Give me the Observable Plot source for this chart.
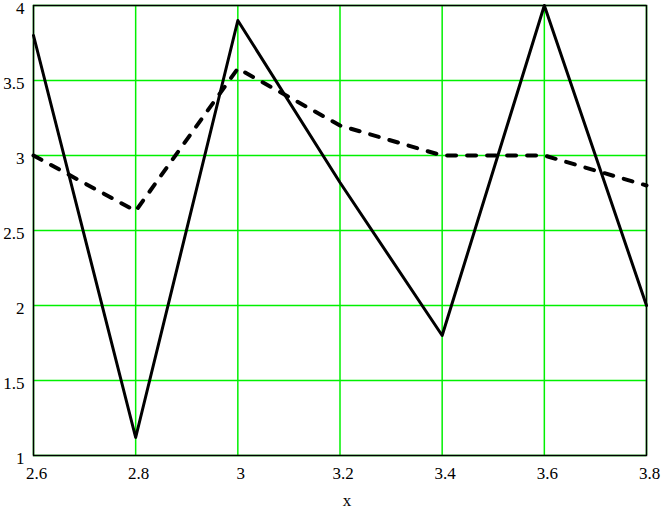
<!DOCTYPE html>
<html>
<head>
<meta charset="utf-8">
<script src="https://cdn.jsdelivr.net/npm/d3@7"></script>
<script src="https://cdn.jsdelivr.net/npm/@observablehq/plot@0.6"></script>
<style>
  html, body { margin: 0; padding: 0; background: #fff; }
  svg text { font-family: "Liberation Serif", "Times New Roman", serif !important; }
</style>
</head>
<body>
<div id="chart"></div>
<script>
const xValues = [2.6, 2.8, 3.0, 3.2, 3.4, 3.6, 3.8];
const solidSeries = [3.8, 1.12, 3.9, 2.82, 1.8, 4.0, 2.0];
const dashedSeries = [3.0, 2.63, 3.58, 3.2, 3.0, 3.0, 2.8];
const xTicks = [2.6, 2.8, 3.0, 3.2, 3.4, 3.6, 3.8];
const yTicks = [1, 1.5, 2, 2.5, 3, 3.5, 4];
const xAxisLabel = "x";

const solidData = xValues.map((x, i) => ({x, y: solidSeries[i]}));
const dashedData = xValues.map((x, i) => ({x, y: dashedSeries[i]}));
const fmt = v => String(+v.toFixed(2));
const GREEN = "#00f000";
const SERIF = "Liberation Serif";

const chart = Plot.plot({
  width: 661,
  height: 511,
  marginLeft: 33,
  marginRight: 15,
  marginTop: 5,
  marginBottom: 56,
  style: {fontFamily: SERIF, fontSize: "17px", color: "black", background: "white"},
  x: {domain: [2.6, 3.8]},
  y: {domain: [1, 4]},
  marks: [
    Plot.gridX(xTicks, {stroke: GREEN, strokeOpacity: 1, strokeWidth: 1.5}),
    Plot.gridY(yTicks, {stroke: GREEN, strokeOpacity: 1, strokeWidth: 1.5}),
    Plot.frame({stroke: "black", strokeWidth: 1.5}),
    Plot.axisX(xTicks, {tickSize: 0, tickPadding: 11, tickFormat: fmt, dx: 3, label: null, fontFamily: SERIF, fontSize: 17}),
    Plot.axisY(yTicks, {tickSize: 0, tickPadding: 9, tickFormat: fmt, dy: 3, label: null, fontFamily: SERIF, fontSize: 17}),
    Plot.text([xAxisLabel], {frameAnchor: "bottom", dy: 50, dx: 7, fontSize: 17, fontFamily: SERIF}),
    Plot.line(dashedData, {x: "x", y: "y", stroke: "black", strokeWidth: 4, strokeDasharray: "9,11"}),
    Plot.line(solidData, {x: "x", y: "y", stroke: "black", strokeWidth: 3})
  ]
});
document.getElementById("chart").appendChild(chart);
</script>
</body>
</html>
